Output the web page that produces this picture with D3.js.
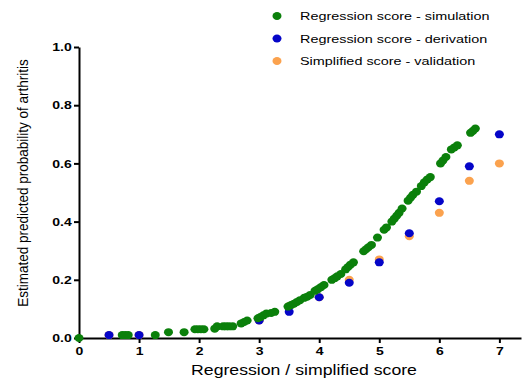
<!DOCTYPE html>
<html>
<head>
<meta charset="utf-8">
<script src="https://cdn.jsdelivr.net/npm/d3@7"></script>
<style>
  html, body { margin: 0; padding: 0; background: #fff; }
  svg { display: block; }
  text { font-family: "Liberation Sans", Arial, sans-serif; }
</style>
</head>
<body>
<svg id="chart" width="522" height="380"></svg>
<script>
// Regression score - simulation
const simX = [0, 0.72, 0.77, 0.82, 1.27, 1.49, 1.75, 1.93, 1.98, 2.03, 2.08, 2.26, 2.3, 2.4, 2.45, 2.5, 2.56,
  2.7, 2.75, 2.8, 2.98, 3.02, 3.07, 3.12, 3.2, 3.26, 3.48, 3.53, 3.58, 3.63, 3.68, 3.75, 3.8, 3.85,
  3.93, 3.98, 4.03, 4.08, 4.21, 4.26, 4.3, 4.36, 4.44, 4.48, 4.52, 4.57, 4.74, 4.78, 4.82, 4.87,
  4.97, 5.08, 5.12, 5.21, 5.25, 5.29, 5.33, 5.38, 5.48, 5.52, 5.56, 5.62, 5.7, 5.75, 5.8, 5.85,
  6.02, 6.06, 6.11, 6.2, 6.25, 6.3, 6.52, 6.56, 6.6];
const simY = [0, 0.01, 0.01, 0.01, 0.01, 0.02, 0.02, 0.03, 0.03, 0.03, 0.03, 0.032, 0.04, 0.04, 0.04, 0.04, 0.04,
  0.05, 0.055, 0.06, 0.068, 0.072, 0.078, 0.084, 0.086, 0.09, 0.108, 0.113, 0.118, 0.124, 0.13, 0.138, 0.142, 0.148,
  0.162, 0.168, 0.175, 0.182, 0.2, 0.206, 0.212, 0.22, 0.236, 0.244, 0.252, 0.26, 0.298, 0.305, 0.312, 0.32,
  0.345, 0.372, 0.38, 0.4, 0.41, 0.42, 0.43, 0.445, 0.472, 0.482, 0.492, 0.503, 0.522, 0.535, 0.545, 0.553,
  0.6, 0.61, 0.622, 0.648, 0.655, 0.662, 0.705, 0.712, 0.72];

// Regression score - derivation
const derX = [0.5, 1, 3, 3.5, 4, 4.5, 5, 5.5, 6, 6.5, 7];
const derY = [0.01, 0.01, 0.06, 0.09, 0.14, 0.19, 0.26, 0.36, 0.47, 0.59, 0.70];

// Simplified score - validation
const valX = [0.5, 1, 3, 3.5, 4, 4.5, 5, 5.5, 6, 6.5, 7];
const valY = [0.01, 0.01, 0.06, 0.11, 0.14, 0.20, 0.27, 0.35, 0.43, 0.54, 0.60];

const xTicks = [0, 1, 2, 3, 4, 5, 6, 7];
const yTicks = [0, 0.2, 0.4, 0.6, 0.8, 1.0];

const seriesNames = ["Regression score - simulation", "Regression score - derivation", "Simplified score - validation"];
const seriesColors = ["#0b800b", "#0505c8", "#fba24e"];

// lettering is drawn a little wider than tall throughout
const WIDEN = 1.22;

const svg = d3.select("#chart");

const x = d3.scaleLinear().domain([0, 7.36]).range([79, 521]);
const y = d3.scaleLinear().domain([0, 1]).range([338, 47]);

// axes
const xAxis = svg.append("g")
  .attr("transform", `translate(0,${y(0)})`)
  .call(d3.axisBottom(x).tickValues(xTicks).tickFormat(d3.format("d")).tickSize(5).tickSizeOuter(0));
const yAxis = svg.append("g")
  .attr("transform", `translate(${x(0)},0)`)
  .call(d3.axisLeft(y).tickValues(yTicks).tickFormat(d3.format(".1f")).tickSize(5).tickSizeOuter(0));

[xAxis, yAxis].forEach(g => {
  g.select(".domain").attr("stroke", "#000").attr("stroke-width", 2);
  g.selectAll(".tick line").attr("stroke", "#000").attr("stroke-width", 2);
  g.selectAll(".tick text")
    .attr("fill", "#000")
    .attr("font-size", 11.5)
    .attr("font-weight", "bold")
    .attr("transform", `scale(${WIDEN},1)`)
    .style("font-family", "'Liberation Sans', Arial, sans-serif");
});
xAxis.selectAll(".tick text").attr("y", 8).attr("dy", "0.75em");
yAxis.selectAll(".tick text").attr("x", -6);

// points: validation first, derivation over it, simulation on top
const layers = [
  { xs: valX, ys: valY, color: seriesColors[2] },
  { xs: derX, ys: derY, color: seriesColors[1] },
  { xs: simX, ys: simY, color: seriesColors[0] }
];
layers.forEach(s => {
  svg.append("g").selectAll("ellipse")
    .data(s.xs.map((v, i) => [v, s.ys[i]]))
    .join("ellipse")
    .attr("cx", d => x(d[0]))
    .attr("cy", d => y(d[1]))
    .attr("rx", 4.5)
    .attr("ry", 4)
    .attr("fill", s.color);
});

// axis titles
svg.append("text")
  .attr("transform", `translate(304,375) scale(${WIDEN},1)`)
  .attr("text-anchor", "middle")
  .attr("font-size", 14.5)
  .attr("fill", "#000")
  .text("Regression / simplified score");

svg.append("text")
  .attr("transform", `translate(28,183) rotate(-90) scale(1,1.1)`)
  .attr("text-anchor", "middle")
  .attr("font-size", 13.5)
  .attr("fill", "#000")
  .text("Estimated predicted probability of arthritis");

// legend
const legend = svg.append("g");
seriesNames.forEach((name, i) => {
  const ly = 16 + i * 22.5;
  legend.append("ellipse").attr("cx", 277).attr("cy", ly).attr("rx", 4.5).attr("ry", 4).attr("fill", seriesColors[i]);
  legend.append("text")
    .attr("transform", `translate(300,${ly}) scale(${WIDEN},1)`)
    .attr("dy", "0.35em")
    .attr("font-size", 11.8)
    .attr("fill", "#000")
    .text(name);
});
</script>
</body>
</html>
